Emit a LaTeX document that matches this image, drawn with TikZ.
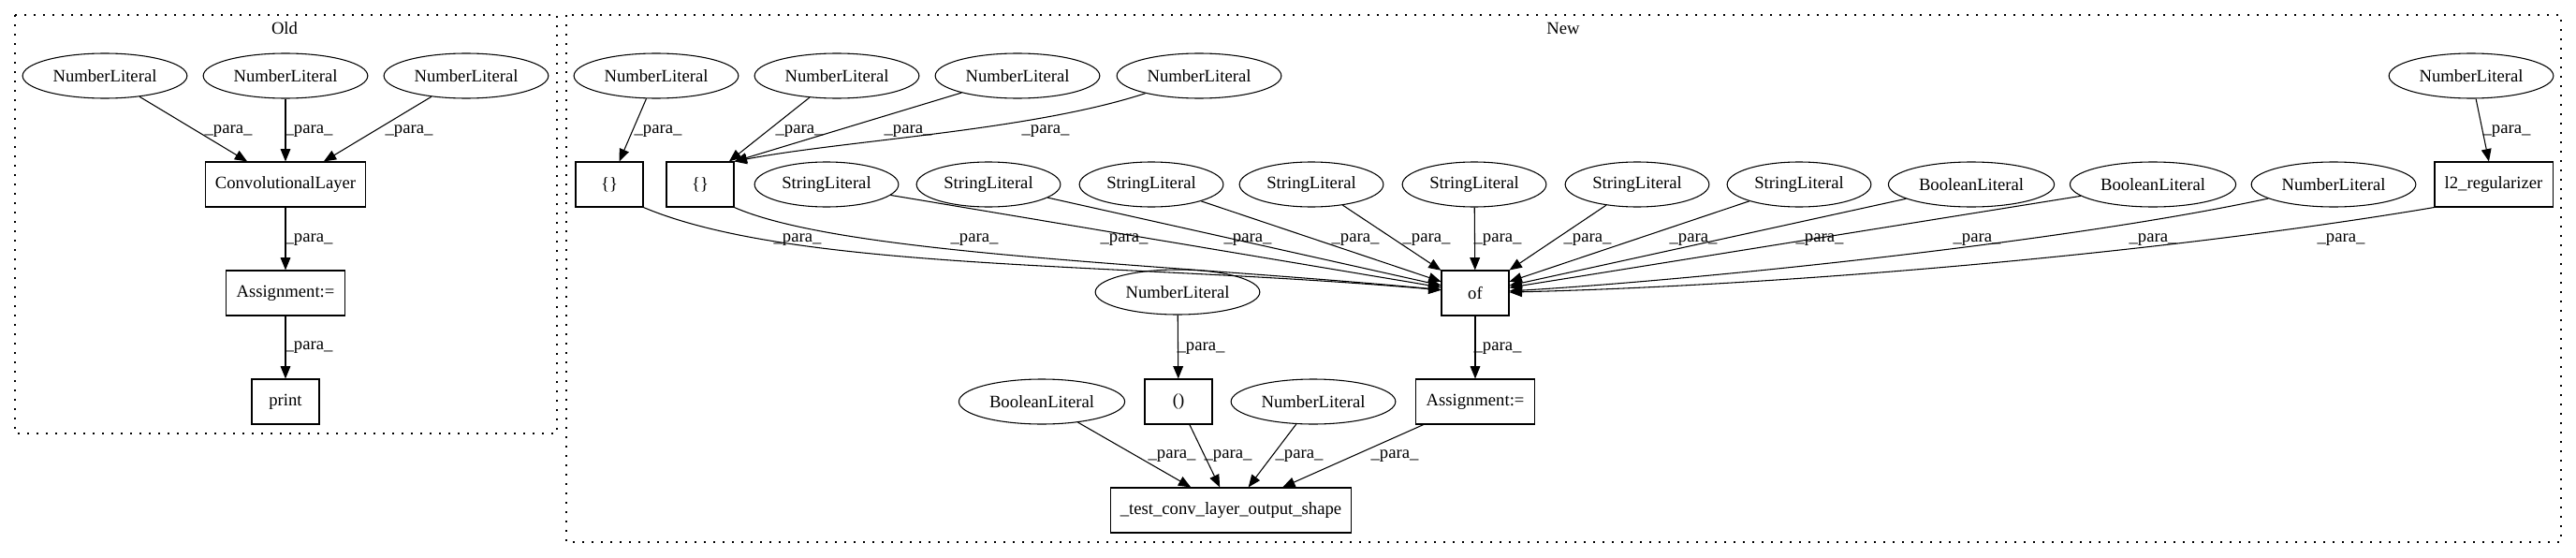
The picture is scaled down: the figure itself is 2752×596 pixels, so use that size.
\documentclass[tikz,border=0pt]{standalone}
\usepackage{fontspec}
\setmainfont{Liberation Serif}
\usetikzlibrary{shapes.geometric,arrows.meta}

\begin{document}
\begin{tikzpicture}[x=0.75pt,y=-0.75pt,
  font=\fontsize{14}{16}\selectfont,
  lit/.style={draw,ellipse,line width=0.8pt,inner xsep=5pt,inner ysep=0pt,minimum height=36pt},
  op/.style={draw,rectangle,line width=0.8pt,inner xsep=8pt,minimum width=54pt,minimum height=36pt},
  lbl/.style={inner sep=1pt},
  arr/.style={line width=0.8pt,-{Triangle[length=10pt,width=8pt]}},
  cluster/.style={line width=1pt,dash pattern=on 1.2pt off 6.3pt}]
\useasboundingbox (0,0) rectangle (2752,596);

% Old
\draw[cluster] (16,16) rectangle (595,463);
\node (oldtitle) at (304,30) {Old};
\node[lit] (oldnA) at (112,81) {NumberLiteral};
\node[lit] (oldnB) at (305,81) {NumberLiteral};
\node[lit] (oldnC) at (498,81) {NumberLiteral};
\node[op] (conv) at (305,197) {ConvolutionalLayer};
\node[op] (oldassign) at (305,313) {Assignment:=};
\node[op] (print) at (305,429) {print};

\draw[arr] (oldnA) -- (conv) node[lbl] at (244,140) {\_para\_};
\draw[arr] (oldnB) -- (conv) node[lbl] at (330,140) {\_para\_};
\draw[arr] (oldnC) -- (conv) node[lbl] at (437,140) {\_para\_};
\draw[arr] (conv) -- (oldassign) node[lbl] at (330,256) {\_para\_};
\draw[arr] (oldassign) -- (print) node[lbl] at (330,371) {\_para\_};

% New
\draw[cluster] (605,16) rectangle (2736,579);
\node (newtitle) at (1670,30) {New};
\node[lit] (numA) at (701,81) {NumberLiteral};
\node[lit] (numB) at (894,81) {NumberLiteral};
\node[lit] (numC) at (1087,81) {NumberLiteral};
\node[lit] (numD) at (1281,81) {NumberLiteral};
\node[lit] (numF) at (2640,81) {NumberLiteral};

\node[op] (brA) at (651,197) {\{\}};
\node[op] (brB) at (748,197) {\{\}};
\node[lit] (strA) at (883,197) {StringLiteral};
\node[lit] (strB) at (1056,197) {StringLiteral};
\node[lit] (strC) at (1230,197) {StringLiteral};
\node[lit] (strD) at (1401,197) {StringLiteral};
\node[lit] (strE) at (1575,197) {StringLiteral};
\node[lit] (strF) at (1749,197) {StringLiteral};
\node[lit] (strG) at (1922,197) {StringLiteral};
\node[lit] (boolA) at (2106,197) {BooleanLiteral};
\node[lit] (boolB) at (2300,197) {BooleanLiteral};
\node[lit] (numE) at (2493,197) {NumberLiteral};
\node[op] (l2reg) at (2664,197) {l2\_regularizer};

\node[op] (of) at (1576,313) {of};
\node[lit] (numG) at (1258,312) {NumberLiteral};
\node[lit] (boolC) at (1113,429) {BooleanLiteral};
\node[op] (paren) at (1259,429) {()};
\node[lit] (numH) at (1403,429) {NumberLiteral};
\node[op] (newassign) at (1576,429) {Assignment:=};
\node[op] (testshape) at (1315,545) {\_test\_conv\_layer\_output\_shape};

% into the brace boxes
\draw[arr] (numA) -- (brA) node[lbl] at (703,140) {\_para\_};
\draw[arr] (numB) -- (brB) node[lbl] at (854,140) {\_para\_};
\draw[arr] (numC) -- (brB.north east) node[lbl] at (970,140) {\_para\_};
\draw[arr] (numD) .. controls (1100,140) and (900,150) .. (brB.north east) node[lbl] at (1117,140) {\_para\_};
\draw[arr] (numF) -- (l2reg) node[lbl] at (2678,140) {\_para\_};

% into of
\draw[arr] (brA.south east) .. controls (850,290) and (1200,280) .. (of) node[lbl] at (852,256) {\_para\_};
\draw[arr] (brB.south east) .. controls (900,272) and (1250,282) .. (of) node[lbl] at (1041,256) {\_para\_};
\draw[arr] (strA) -- (of) node[lbl] at (1201,256) {\_para\_};
\draw[arr] (strB) -- (of) node[lbl] at (1333,256) {\_para\_};
\draw[arr] (strC) -- (of) node[lbl] at (1448,256) {\_para\_};
\draw[arr] (strD) -- (of) node[lbl] at (1524,256) {\_para\_};
\draw[arr] (strE) -- (of) node[lbl] at (1600,256) {\_para\_};
\draw[arr] (strF) -- (of) node[lbl] at (1696,256) {\_para\_};
\draw[arr] (strG) -- (of) node[lbl] at (1809,256) {\_para\_};
\draw[arr] (boolA) -- (of) node[lbl] at (1944,256) {\_para\_};
\draw[arr] (boolB) -- (of) node[lbl] at (2112,256) {\_para\_};
\draw[arr] (numE) .. controls (2200,260) and (1800,300) .. (of) node[lbl] at (2300,256) {\_para\_};
\draw[arr] (l2reg.south west) .. controls (2300,272) and (1900,305) .. (of) node[lbl] at (2501,256) {\_para\_};

% lower part
\draw[arr] (of) -- (newassign) node[lbl] at (1600,372) {\_para\_};
\draw[arr] (numG) -- (paren) node[lbl] at (1283,372) {\_para\_};
\draw[arr] (boolC) -- (testshape) node[lbl] at (1252,487) {\_para\_};
\draw[arr] (paren) -- (testshape) node[lbl] at (1312,487) {\_para\_};
\draw[arr] (numH) -- (testshape) node[lbl] at (1388,487) {\_para\_};
\draw[arr] (newassign) -- (testshape) node[lbl] at (1490,487) {\_para\_};

\end{tikzpicture}
\end{document}
